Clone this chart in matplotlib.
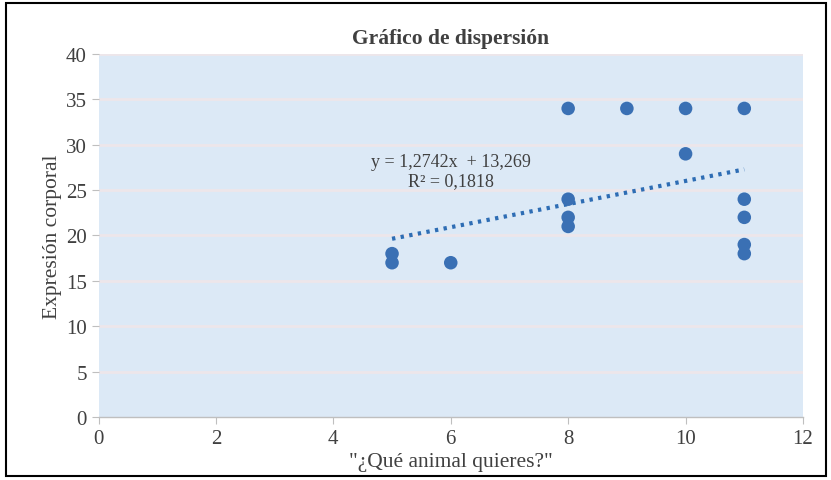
import matplotlib
matplotlib.use("Agg")
import matplotlib.pyplot as plt
from matplotlib.patches import Rectangle
import numpy as np

# Data
animal_x = [5, 5, 6, 8, 8, 8, 8, 9, 10, 10, 11, 11, 11, 11, 11]
expresion_y = [17, 18, 17, 34, 24, 22, 21, 34, 34, 29, 34, 24, 22, 19, 18]
trend_slope = 1.2742
trend_intercept = 13.269
trend_r2 = 0.1818
x_ticks = [0, 2, 4, 6, 8, 10, 12]
y_ticks = [0, 5, 10, 15, 20, 25, 30, 35, 40]

title = "Gráfico de dispersión"
xlabel = '"¿Qué animal quieres?"'
ylabel = "Expresión corporal"
eq_text = "y = 1,2742x  + 13,269\nR² = 0,1818"

plt.rcParams['font.family'] = ['Liberation Serif', 'DejaVu Serif']

fig = plt.figure(figsize=(8.31, 4.81), dpi=100)
fig.patch.set_facecolor('white')
ax = fig.add_axes([98.5 / 831, 1 - 418 / 481, (803 - 98.5) / 831, (418 - 55) / 481])
ax.set_facecolor('#DCE9F6')

# gridlines
for yv in y_ticks[1:]:
    ax.axhline(yv, color='#EDE6EA', lw=2.0, zorder=1)

# trendline
tx = np.array([min(animal_x), max(animal_x)])
ax.plot(tx, trend_slope * tx + trend_intercept, color='#2E6DB4', lw=3.0,
        linestyle=(0, (0.8, 1.3)), zorder=2)

ax.scatter(animal_x, expresion_y, s=95, color='#3A70B4', zorder=3, edgecolors='none')

ax.text(6.0, 27.1, eq_text, ha='center', va='center', fontsize=13,
        color='#404040', linespacing=1.1, multialignment='center', zorder=4)

ax.set_xlim(0, 12)
ax.set_ylim(0, 40)
ax.set_xticks(x_ticks)
ax.set_yticks(y_ticks)
ax.tick_params(axis='both', labelsize=15, colors='#404040', length=5, width=0.8,
               direction='out')
ax.tick_params(axis='x', color='#BFBFBF')
ax.tick_params(axis='y', color='#BFBFBF')
for s in ['top', 'right', 'left']:
    ax.spines[s].set_visible(False)
ax.spines['bottom'].set_color('#BFBFBF')
ax.spines['bottom'].set_linewidth(1.0)

ax.set_title(title, fontsize=15.5, fontweight='bold', color='#404040', pad=8)
ax.set_xlabel(xlabel, fontsize=15.5, color='#404040', labelpad=3)
ax.set_ylabel(ylabel, fontsize=15.5, color='#404040', labelpad=3)

# outer border
fig.add_artist(Rectangle((6 / 831, 4 / 481), 820 / 831, 473 / 481, transform=fig.transFigure,
                         fill=False, edgecolor='black', lw=1.5))

fig.savefig('out.png', dpi=100)
